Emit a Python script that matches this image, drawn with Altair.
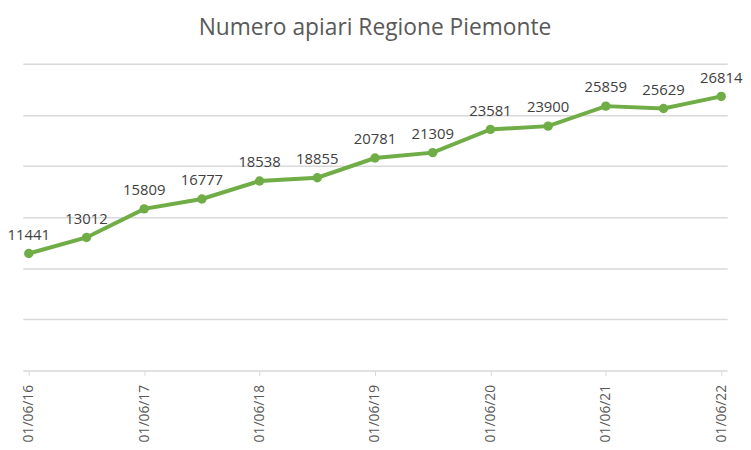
import altair as alt
import pandas as pd

dates = ["01/06/16", "01/12/16", "01/06/17", "01/12/17", "01/06/18", "01/12/18",
         "01/06/19", "01/12/19", "01/06/20", "01/12/20", "01/06/21", "01/12/21", "01/06/22"]
values = [11441, 13012, 15809, 16777, 18538, 18855, 20781, 21309, 23581, 23900, 25859, 25629, 26814]
tick_idx = [0, 2, 4, 6, 8, 10, 12]

df = pd.DataFrame({"i": list(range(len(dates))), "date": dates, "v": values})

label_map = "{" + ",".join(f"'{i}':'{d}'" for i, d in enumerate(dates)) + "}"

green = "#70AD47"

x = alt.X("i:Q", scale=alt.Scale(domain=[-0.103, 12.103], nice=False, zero=False),
          axis=alt.Axis(values=tick_idx, labelExpr=f"{label_map}[toString(datum.value)]",
                        labelAngle=270, labelAlign="right", labelBaseline="middle",
                        labelFont="Open Sans", labelFontSize=14, labelColor="#595959",
                        labelPadding=9, tickSize=5, tickColor="#D9D9D9", domainColor="#D9D9D9",
                        domainWidth=1.5, grid=False, title=None))
y = alt.Y("v:Q", scale=alt.Scale(domain=[0, 30000], nice=False),
          axis=alt.Axis(values=[5000, 10000, 15000, 20000, 25000, 30000], labels=False, ticks=False,
                        domain=False, grid=True, gridColor="#D9D9D9", gridWidth=1.5, title=None))

base = alt.Chart(df).encode(x=x, y=y)
line = base.mark_line(color=green, strokeWidth=4)
pts = base.mark_point(color=green, filled=True, size=90, opacity=1)
labels = base.mark_text(font="Open Sans", fontSize=15, color="#404040", baseline="bottom", dy=-11).encode(
    text=alt.Text("v:Q", format="d"))

chart = (line + pts + labels).properties(
    width=712, height=310,
    title=alt.Title("Numero apiari Regione Piemonte", font="Open Sans", fontSize=23,
                    fontWeight="normal", color="#595959", anchor="middle", offset=24),
    autosize=alt.AutoSizeParams(type="none"),
    padding={"left": 15, "top": 54, "right": 16, "bottom": 80},
).configure_view(stroke=None)

chart.save("out.html", embed_options={"renderer": "svg", "actions": False})
